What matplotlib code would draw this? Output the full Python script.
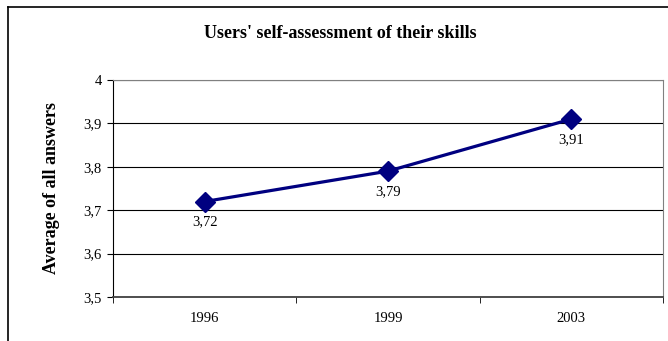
import matplotlib.pyplot as plt
import numpy as np

# ───────────────────────── Data ─────────────────────────
years = ["1996", "1999", "2003"]
averages = [3.72, 3.79, 3.91]
y_ticks = [3.5, 3.6, 3.7, 3.8, 3.9, 4.0]
y_tick_labels = ["3,5", "3,6", "3,7", "3,8", "3,9", "4"]

plt.rcParams["font.family"] = ["Liberation Serif", "DejaVu Serif"]

W, H = 668, 341
fig = plt.figure(figsize=(W / 100, H / 100), dpi=100)

# outer chart border (cropped at right/bottom)
fig.add_artist(plt.Line2D([8 / W, 8 / W], [0, 1 - 7 / H], color="black", lw=1.2))
fig.add_artist(plt.Line2D([8 / W, 1], [1 - 7 / H, 1 - 7 / H], color="black", lw=1.2))

left, right, top, bottom = 113, 663, 80, 297
ax = fig.add_axes([left / W, 1 - bottom / H, (right - left) / W, (bottom - top) / H])

x = np.arange(len(years))
ax.plot(x, averages, color="#000080", lw=2.3, marker="D", markersize=10, zorder=3)
for xi, v in zip(x, averages):
    ax.annotate(f"{v:.2f}".replace(".", ","), (xi, v), xytext=(0, -14.5),
                textcoords="offset points", ha="center", va="center", fontsize=10.5)

ax.set_xlim(-0.5, len(years) - 0.5)
ax.set_ylim(3.5, 4.0)
ax.set_yticks(y_ticks)
ax.set_yticklabels(y_tick_labels, fontsize=10.5)
ax.set_xticks(x)
ax.set_xticklabels(years, fontsize=10.5)
ax.tick_params(axis="x", length=0, pad=11)
ax.set_xticks(np.arange(-0.5, len(years)), minor=True)
ax.tick_params(axis="x", which="minor", length=4, direction="out")
ax.tick_params(axis="y", length=4, direction="out", pad=4)
ax.grid(True, axis="y", color="black", lw=0.8)
ax.set_axisbelow(True)

for s in ["top", "right"]:
    ax.spines[s].set_color("#808080")
ax.spines["left"].set_color("black")
ax.spines["bottom"].set_color("#404040")
ax.spines["bottom"].set_linewidth(1.3)

ax.set_ylabel("Average of all answers", fontsize=13, fontweight="bold", labelpad=17)
fig.text(340 / W, 1 - 33 / H, "Users' self-assessment of their skills", ha="center",
         va="center", fontsize=13, fontweight="bold")

fig.savefig("out.png", dpi=100)
